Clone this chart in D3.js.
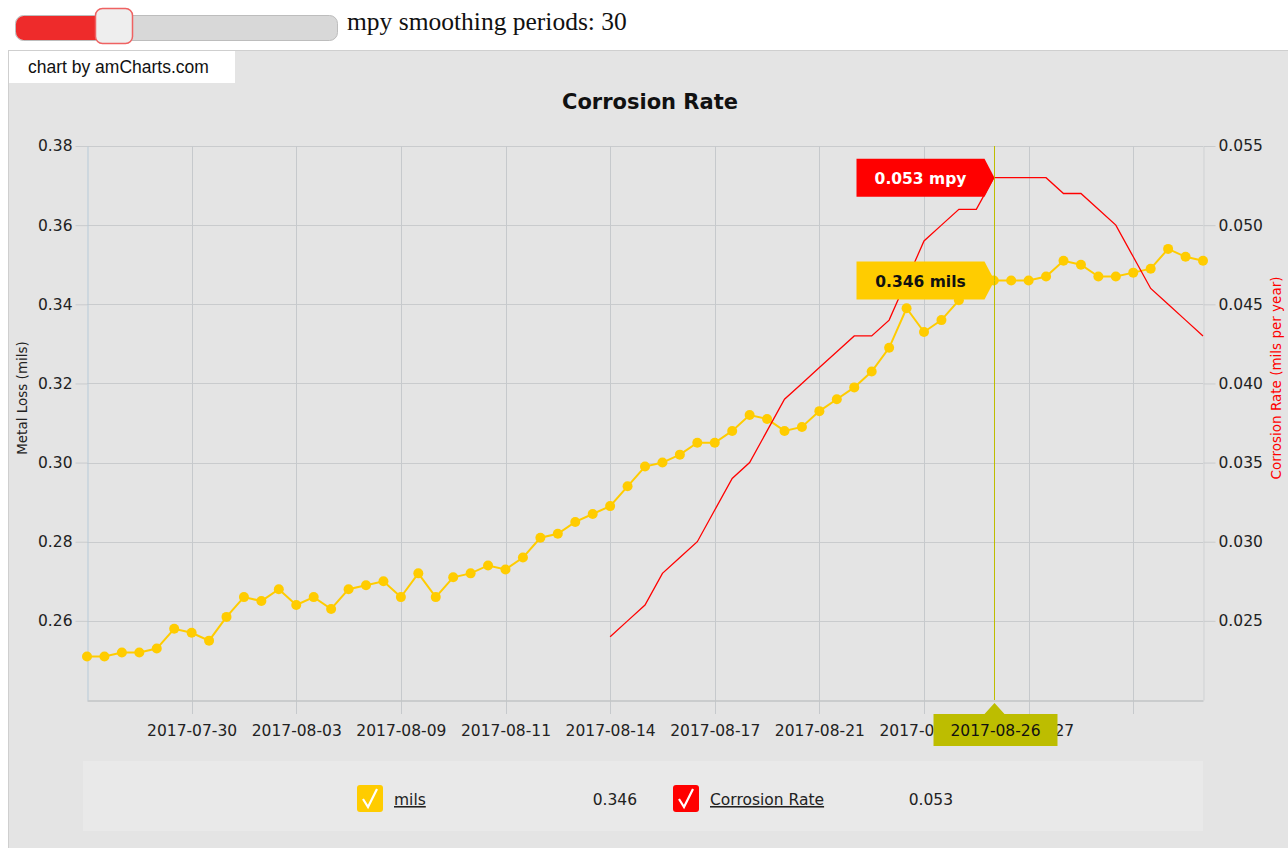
<!DOCTYPE html>
<html>
<head>
<meta charset="UTF-8">
<title>Corrosion Rate</title>
<style>
  body { margin: 0; background: #fff; overflow: hidden; }
  svg text { font-family: "DejaVu Sans", Verdana, sans-serif; }
  .tick text { font-size: 15.5px; fill: #222; }
</style>
</head>
<body>
<svg id="chart" width="1288" height="848"></svg>
<script src="https://d3js.org/d3.v7.min.js"></script>
<script>
// metal loss readings (mils), one per reading
const mils = [
  0.251, 0.251, 0.252, 0.252, 0.253, 0.258, 0.257, 0.255, 0.261, 0.266,
  0.265, 0.268, 0.264, 0.266, 0.263, 0.268, 0.269, 0.270, 0.266, 0.272,
  0.266, 0.271, 0.272, 0.274, 0.273, 0.276, 0.281, 0.282, 0.285, 0.287,
  0.289, 0.294, 0.299, 0.300, 0.302, 0.305, 0.305, 0.308, 0.312, 0.311,
  0.308, 0.309, 0.313, 0.316, 0.319, 0.323, 0.329, 0.339, 0.333, 0.336,
  0.341, 0.344, 0.346, 0.346, 0.346, 0.347, 0.351, 0.350, 0.347, 0.347,
  0.348, 0.349, 0.354, 0.352, 0.351
];
// smoothed corrosion rate (mpy), starts after 30 readings
const mpy = [
  null, null, null, null, null, null, null, null, null, null,
  null, null, null, null, null, null, null, null, null, null,
  null, null, null, null, null, null, null, null, null, null,
  0.024, 0.025, 0.026, 0.028, 0.029, 0.030, 0.032, 0.034, 0.035, 0.037,
  0.039, 0.040, 0.041, 0.042, 0.043, 0.043, 0.044, 0.0465, 0.049, 0.050,
  0.051, 0.051, 0.053, 0.053, 0.053, 0.053, 0.052, 0.052, 0.051, 0.050,
  0.048, 0.046, 0.045, 0.044, 0.043
];
const tickIdx = [6, 12, 18, 24, 30, 36, 42, 48, 54, 60];
const tickLabels = ["2017-07-30", "2017-08-03", "2017-08-09", "2017-08-11", "2017-08-14",
  "2017-08-17", "2017-08-21", "2017-08-24", "2017-08-27", ""];
const leftTicks = [0.26, 0.28, 0.30, 0.32, 0.34, 0.36, 0.38];
const rightTicks = [0.025, 0.030, 0.035, 0.040, 0.045, 0.050, 0.055];
const cursorIdx = 52;
const cursorDate = "2017-08-26";

const svg = d3.select("#chart");
const plot = { left: 87, right: 1203, top: 146, bottom: 700 };

const x = d3.scaleLinear().domain([0, mils.length - 1]).range([plot.left, plot.right]);
const yL = d3.scaleLinear().domain([0.24, 0.38]).range([plot.bottom, plot.top]);
const yR = d3.scaleLinear().domain([0.020, 0.055]).range([plot.bottom, plot.top]);

// slider above the chart
const sl = svg.append("g");
sl.append("rect").attr("x", 15.5).attr("y", 15.5).attr("width", 322).attr("height", 25)
  .attr("rx", 8).attr("fill", "#d8d8d8").attr("stroke", "#bdbdbd");
sl.append("path").attr("d", "M23.5,16 H108 V40 H23.5 A8,8 0 0 1 16,32 V24 A8,8 0 0 1 23.5,16 Z")
  .attr("fill", "#ee2b2b");
sl.append("rect").attr("x", 95.5).attr("y", 8.5).attr("width", 37).attr("height", 35)
  .attr("rx", 7).attr("fill", "#eeeeee").attr("stroke", "#ef6262").attr("stroke-width", 1.5);
sl.append("text").attr("x", 347).attr("y", 30)
  .style("font-family", "'Liberation Serif', 'Times New Roman', serif").style("font-size", "25.5px")
  .attr("fill", "#111").text("mpy smoothing periods: 30");

// chart container
svg.append("rect").attr("x", 8.5).attr("y", 50.5).attr("width", 1290).attr("height", 810)
  .attr("fill", "#e4e4e4").attr("stroke", "#cfcfcf");
svg.append("rect").attr("x", 9).attr("y", 51).attr("width", 226).attr("height", 32).attr("fill", "#fff");
svg.append("text").attr("x", 28).attr("y", 73).style("font-family", "'Liberation Sans', Arial, sans-serif")
  .style("font-size", "17.5px").attr("fill", "#111").text("chart by amCharts.com");

svg.append("text").attr("x", 650).attr("y", 109).attr("text-anchor", "middle")
  .style("font-size", "21px").style("font-weight", "bold").attr("fill", "#111").text("Corrosion Rate");

// grid
const grid = svg.append("g");
grid.selectAll("line.h").data(leftTicks).join("line")
  .attr("x1", plot.left).attr("x2", plot.right)
  .attr("y1", d => Math.round(yL(d)) + 0.5).attr("y2", d => Math.round(yL(d)) + 0.5)
  .attr("stroke", "#c9cbcd");
grid.selectAll("line.v").data(tickIdx).join("line")
  .attr("x1", d => Math.round(x(d)) + 0.5).attr("x2", d => Math.round(x(d)) + 0.5)
  .attr("y1", plot.top).attr("y2", plot.bottom + 14)
  .attr("stroke", "#c6c9cc");

// axes
const xAxis = svg.append("g").attr("transform", `translate(0,${plot.bottom + 0.5})`)
  .call(d3.axisBottom(x).tickValues(tickIdx).tickFormat((d, i) => tickLabels[i]).tickSize(0).tickPadding(24));
xAxis.select(".domain").attr("stroke", "#c2c4c6").attr("stroke-width", 1.5);

const lAxis = svg.append("g").attr("transform", `translate(${plot.left + 0.5},0)`)
  .call(d3.axisLeft(yL).tickValues(leftTicks).tickFormat(d3.format(".2f"))
    .tickSizeInner(12).tickSizeOuter(0).tickPadding(3));
lAxis.select(".domain").attr("stroke", "#b7cad8");
lAxis.selectAll(".tick line").attr("stroke", "#c9cbcd");

const rAxis = svg.append("g").attr("transform", `translate(${plot.right + 0.5},0)`)
  .call(d3.axisRight(yR).tickValues(rightTicks).tickFormat(d3.format(".3f"))
    .tickSizeInner(12).tickSizeOuter(0).tickPadding(3));
rAxis.select(".domain").attr("stroke", "#cfd1d3");
rAxis.selectAll(".tick line").attr("stroke", "#c9cbcd");

svg.append("text").attr("transform", "translate(27,398) rotate(-90)").attr("text-anchor", "middle")
  .style("font-size", "13.5px").attr("fill", "#222").text("Metal Loss (mils)");
svg.append("text").attr("transform", "translate(1281,378) rotate(-90)").attr("text-anchor", "middle")
  .style("font-size", "13.5px").attr("fill", "#ff0000").text("Corrosion Rate (mils per year)");

// series
const milsPts = mils.map((v, i) => [i, v]);
svg.append("path").datum(milsPts)
  .attr("d", d3.line().x(d => x(d[0])).y(d => yL(d[1])))
  .attr("fill", "none").attr("stroke", "#ffcc00").attr("stroke-width", 2);
svg.append("g").selectAll("circle").data(milsPts).join("circle")
  .attr("cx", d => x(d[0])).attr("cy", d => yL(d[1])).attr("r", 5).attr("fill", "#ffcc00");

const mpyPts = mpy.map((v, i) => [i, v]).filter(d => d[1] != null);
svg.append("path").datum(mpyPts)
  .attr("d", d3.line().x(d => x(d[0])).y(d => yR(d[1])))
  .attr("fill", "none").attr("stroke", "#ff0000").attr("stroke-width", 1.3);

// cursor
const cx = Math.round(x(cursorIdx)) + 0.5;
svg.append("line").attr("x1", cx).attr("x2", cx).attr("y1", plot.top).attr("y2", plot.bottom)
  .attr("stroke", "#bdbd00");

function balloon(tipY, fill, color, label) {
  const g = svg.append("g");
  g.append("path")
    .attr("d", `M${cx - 138},${tipY - 19} H${cx - 10} L${cx},${tipY} L${cx - 10},${tipY + 19} H${cx - 138} Z`)
    .attr("fill", fill);
  g.append("text").attr("x", cx - 74).attr("y", tipY + 6).attr("text-anchor", "middle")
    .style("font-size", "15.5px").style("font-weight", "bold").attr("fill", color).text(label);
}
balloon(yR(mpy[cursorIdx]), "#ff0000", "#fff", d3.format(".3f")(mpy[cursorIdx]) + " mpy");
balloon(yL(mils[cursorIdx]), "#ffcc00", "#111", d3.format(".3f")(mils[cursorIdx]) + " mils");

const cb = svg.append("g");
cb.append("path")
  .attr("d", `M${cx - 61},714 H${cx - 10} L${cx},703 L${cx + 10},714 H${cx + 63} V746 H${cx - 61} Z`)
  .attr("fill", "#bdbd00");
cb.append("text").attr("x", cx + 1).attr("y", 736).attr("text-anchor", "middle")
  .style("font-size", "15.5px").attr("fill", "#111").text(cursorDate);

// legend
svg.append("rect").attr("x", 83).attr("y", 761).attr("width", 1120).attr("height", 70).attr("fill", "#e9e9e9");
const legendItems = [
  { name: "mils", value: mils[cursorIdx], color: "#ffcc00", x: 357, vx: 637 },
  { name: "Corrosion Rate", value: mpy[cursorIdx], color: "#ff0000", x: 673, vx: 953 }
];
const lg = svg.append("g").selectAll("g").data(legendItems).join("g")
  .attr("transform", d => `translate(${d.x},785)`);
lg.append("rect").attr("width", 26).attr("height", 27).attr("rx", 3).attr("fill", d => d.color);
lg.append("path").attr("d", "M6,14 L11,22 L20,4").attr("fill", "none").attr("stroke", "#fff").attr("stroke-width", 2.2);
lg.append("text").attr("x", 37).attr("y", 20).style("font-size", "15.5px").attr("fill", "#222")
  .attr("text-decoration", "underline").text(d => d.name);
lg.append("text").attr("x", d => d.vx - d.x).attr("y", 20).attr("text-anchor", "end")
  .style("font-size", "15.5px").attr("fill", "#222").text(d => d3.format(".3f")(d.value));
</script>
</body>
</html>
